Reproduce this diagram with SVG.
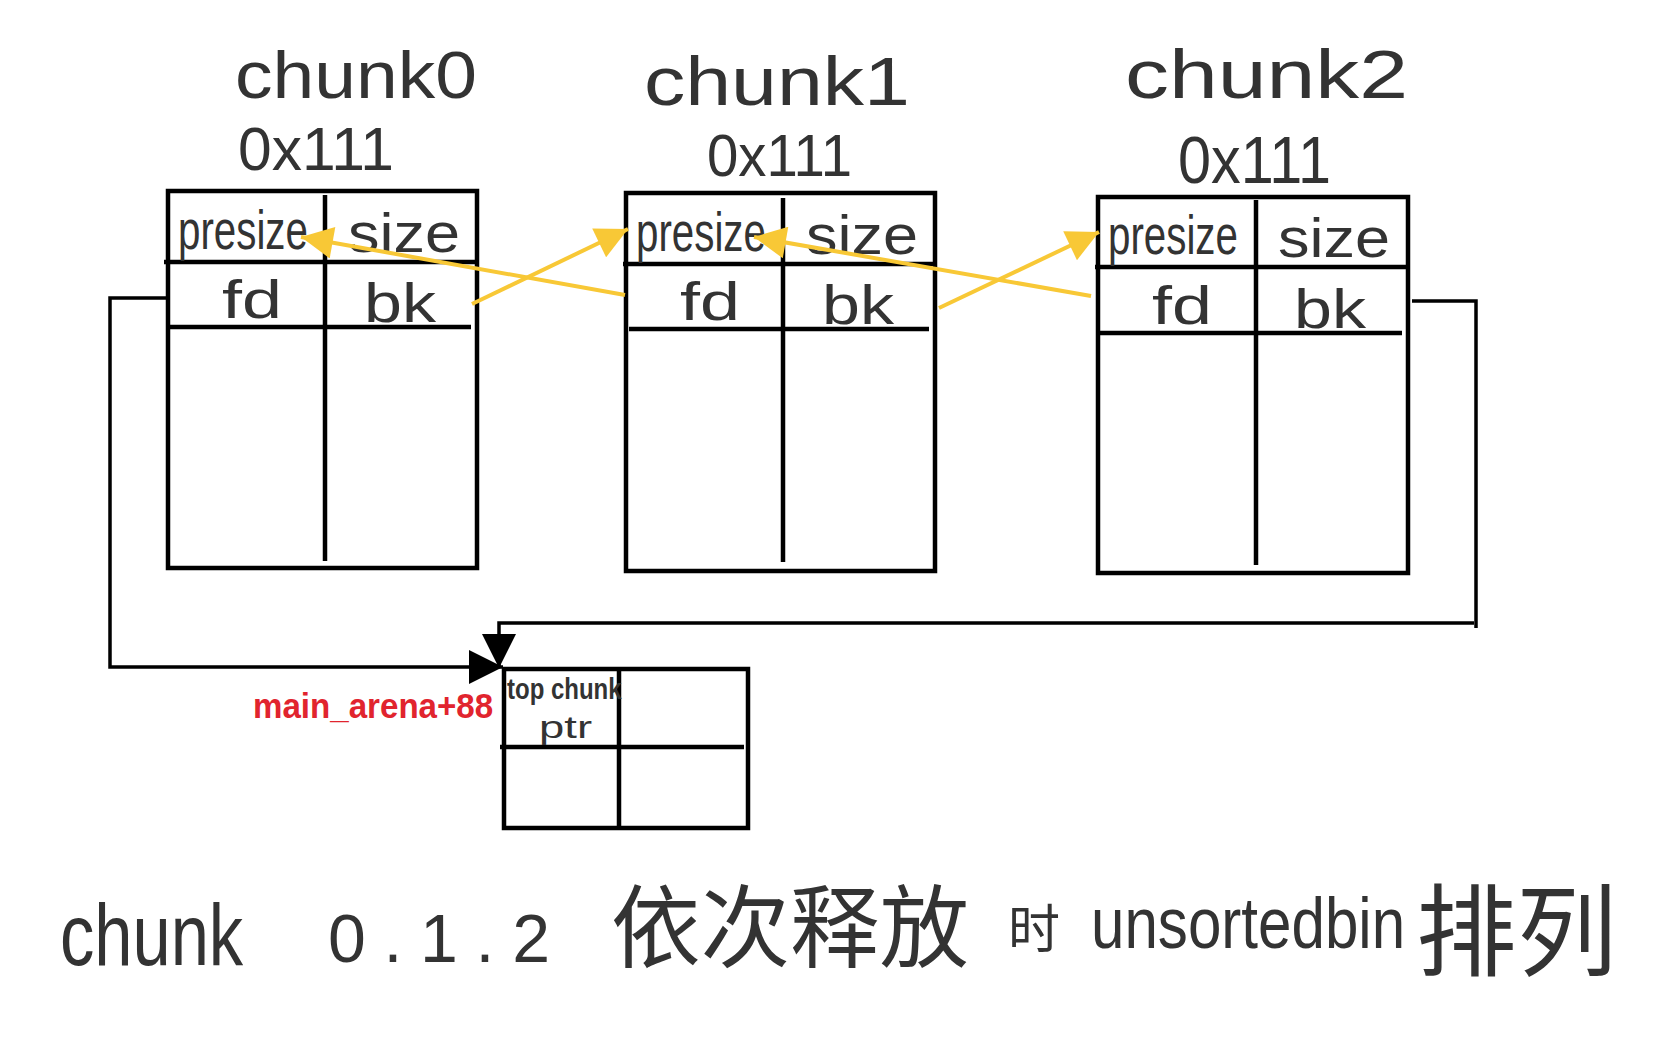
<svg xmlns="http://www.w3.org/2000/svg" width="1665" height="1038" viewBox="0 0 1665 1038">
<style>
.bx{fill:none;stroke:#000;stroke-width:4.5;stroke-linecap:square}
.ln{fill:none;stroke:#000;stroke-width:4.5}
.cn{fill:none;stroke:#000;stroke-width:3.5}
.yl{fill:none;stroke:#F8C836;stroke-width:4}
.hw{font-family:"Liberation Sans","Noto Sans CJK SC",sans-serif;fill:#333}
.cjk{font-family:"Noto Sans CJK SC",sans-serif;fill:#333}
.red{font-family:"Liberation Sans",sans-serif;fill:#E1242E}
</style>
<defs>
<marker id="ab" viewBox="0 0 10 10" refX="10" refY="5" markerUnits="userSpaceOnUse" markerWidth="38" markerHeight="34" orient="auto"><path d="M0,0 L10,5 L0,10 z" fill="#000"/></marker>
<marker id="ay" viewBox="0 0 10 10" refX="10" refY="5" markerUnits="userSpaceOnUse" markerWidth="38" markerHeight="32" orient="auto"><path d="M0,0 L10,5 L0,10 z" fill="#F8C836"/></marker>
</defs>
<rect width="1665" height="1038" fill="#fff"/>

<g id="chunk0">
<text class="hw" x="235" y="98" font-size="66" textLength="242" lengthAdjust="spacingAndGlyphs">chunk0</text>
<text class="hw" x="238" y="170" font-size="62" textLength="156" lengthAdjust="spacingAndGlyphs">0x111</text>
<rect class="bx" x="168" y="191" width="309" height="377"/>
<line class="ln" x1="164" y1="262" x2="477" y2="262"/>
<line class="ln" x1="170" y1="327" x2="471" y2="327"/>
<line class="ln" x1="325" y1="195" x2="325" y2="561"/>
<text class="hw" transform="translate(178,249) scale(0.72,1)" font-size="56">presize</text>
<text class="hw" x="348" y="252" font-size="56" textLength="112" lengthAdjust="spacingAndGlyphs">size</text>
<text class="hw" x="222" y="318" font-size="54" textLength="60" lengthAdjust="spacingAndGlyphs">fd</text>
<text class="hw" x="364" y="322" font-size="56" textLength="72" lengthAdjust="spacingAndGlyphs">bk</text>
</g>

<g id="chunk1">
<text class="hw" x="644" y="105" font-size="68" textLength="266" lengthAdjust="spacingAndGlyphs">chunk1</text>
<text class="hw" x="707" y="176" font-size="60" textLength="145" lengthAdjust="spacingAndGlyphs">0x111</text>
<rect class="bx" x="626" y="193" width="309" height="378"/>
<line class="ln" x1="623" y1="264" x2="935" y2="264"/>
<line class="ln" x1="629" y1="329" x2="929" y2="329"/>
<line class="ln" x1="783" y1="198" x2="783" y2="562"/>
<text class="hw" transform="translate(636,251) scale(0.72,1)" font-size="56">presize</text>
<text class="hw" x="806" y="254" font-size="56" textLength="112" lengthAdjust="spacingAndGlyphs">size</text>
<text class="hw" x="680" y="320" font-size="54" textLength="60" lengthAdjust="spacingAndGlyphs">fd</text>
<text class="hw" x="822" y="324" font-size="56" textLength="72" lengthAdjust="spacingAndGlyphs">bk</text>
</g>

<g id="chunk2">
<text class="hw" x="1125" y="98" font-size="68" textLength="283" lengthAdjust="spacingAndGlyphs">chunk2</text>
<text class="hw" x="1178" y="183" font-size="66" textLength="153" lengthAdjust="spacingAndGlyphs">0x111</text>
<rect class="bx" x="1098" y="197" width="310" height="376"/>
<line class="ln" x1="1095" y1="267" x2="1406" y2="267"/>
<line class="ln" x1="1099" y1="333" x2="1402" y2="333"/>
<line class="ln" x1="1256" y1="200" x2="1256" y2="565"/>
<text class="hw" transform="translate(1108,254) scale(0.72,1)" font-size="56">presize</text>
<text class="hw" x="1278" y="257" font-size="56" textLength="112" lengthAdjust="spacingAndGlyphs">size</text>
<text class="hw" x="1152" y="324" font-size="54" textLength="60" lengthAdjust="spacingAndGlyphs">fd</text>
<text class="hw" x="1294" y="328" font-size="56" textLength="72" lengthAdjust="spacingAndGlyphs">bk</text>
</g>

<g id="main_arena">
<rect class="bx" x="504" y="669" width="244" height="159"/>
<line class="ln" x1="500" y1="747" x2="744" y2="747"/>
<line class="ln" x1="619" y1="669" x2="619" y2="828"/>
<text class="hw" transform="translate(507,699) scale(0.8,1)" font-size="30" font-weight="bold">top chunk</text>
<text class="hw" x="539" y="738" font-size="32" textLength="53" lengthAdjust="spacingAndGlyphs">ptr</text>
<text class="red" transform="translate(253,718) scale(0.92,1)" font-size="36" font-weight="bold">main_arena+88</text>
</g>

<g id="connectors">
<path class="cn" d="M167,298 H110 V667 H503" marker-end="url(#ab)"/>
<path class="cn" d="M1412,301 H1476 V628"/>
<path class="cn" d="M1474,623 H499 V668" marker-end="url(#ab)"/>
<line class="yl" x1="625" y1="295" x2="301" y2="237" marker-end="url(#ay)"/>
<line class="yl" x1="472" y1="304" x2="628" y2="229" marker-end="url(#ay)"/>
<line class="yl" x1="1091" y1="296" x2="754" y2="237" marker-end="url(#ay)"/>
<line class="yl" x1="939" y1="308" x2="1099" y2="232" marker-end="url(#ay)"/>
</g>

<g id="caption">
<text class="hw" transform="translate(60,965) scale(0.78,1)" font-size="88">chunk</text>
<text class="hw" x="328" y="962" font-size="68" textLength="222" lengthAdjust="spacing">0.1.2</text>
<text class="cjk" x="611" y="960" font-size="90" textLength="358" lengthAdjust="spacingAndGlyphs">依次释放</text>
<text class="cjk" x="1008" y="948" font-size="52" textLength="52" lengthAdjust="spacingAndGlyphs">时</text>
<text class="hw" transform="translate(1091,948) scale(0.835,1)" font-size="72">unsortedbin</text>
<text class="cjk" x="1416" y="968" font-size="100" textLength="201" lengthAdjust="spacingAndGlyphs">排列</text>
</g>
</svg>
